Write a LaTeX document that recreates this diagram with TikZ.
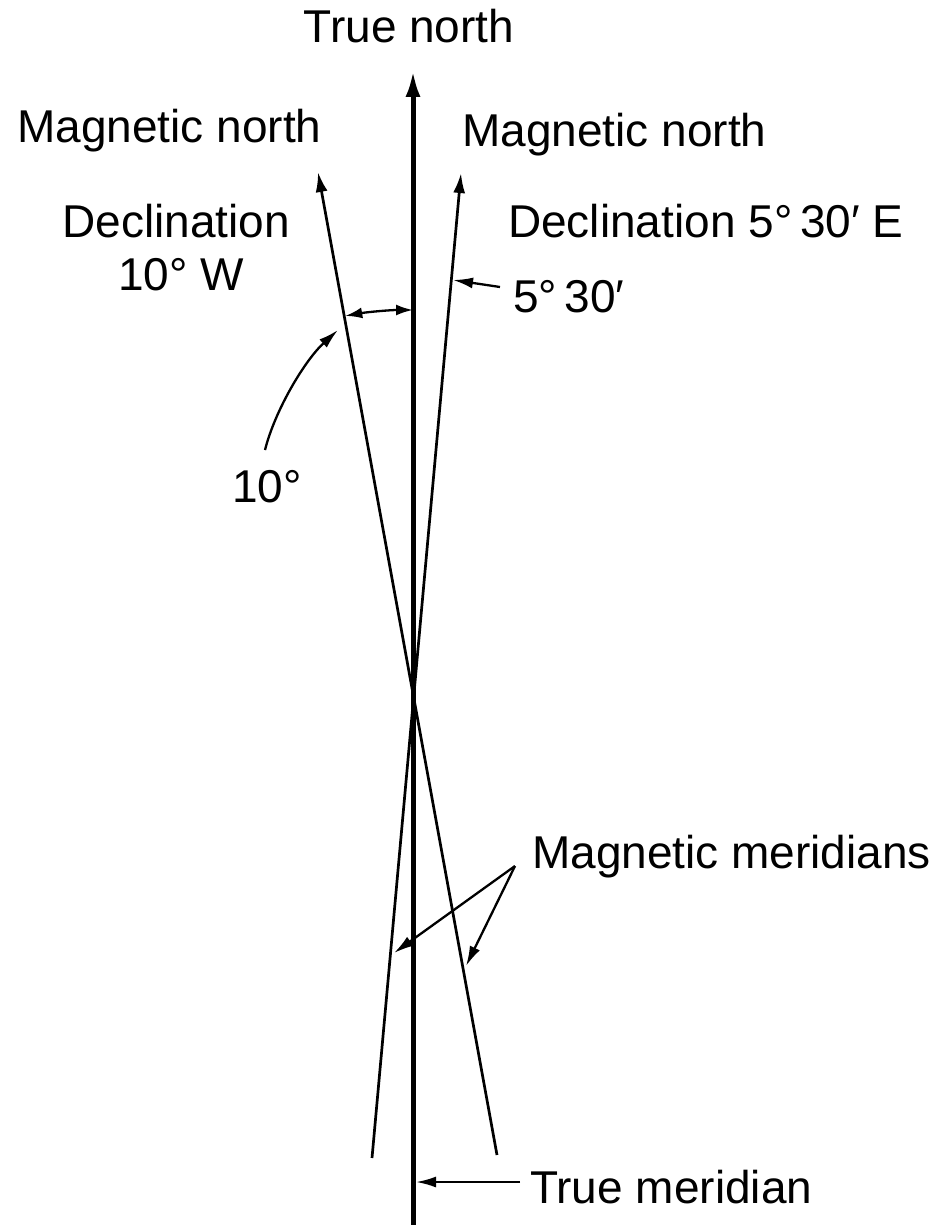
\documentclass[tikz,border=0pt]{standalone}
\usepackage{fontspec}
\setmainfont{Liberation Sans}
\usetikzlibrary{arrows.meta,calc}
\begin{document}
\begin{tikzpicture}[x=1pt,y=-1pt,
  lbl/.style={inner sep=0pt, font=\fontsize{46}{55}\selectfont, anchor=base west},
  truem/.style={line width=5pt},
  magm/.style={line width=2.7pt},
  lead/.style={line width=2.3pt},
  bigtip/.style={-{Latex[length=27pt,width=15pt]}},
  magtip/.style={-{Latex[length=20pt,width=12pt]}},
  leadtip/.style={-{Latex[length=20pt,width=11pt]}},
  dbltip/.style={{Latex[length=17pt,width=11pt]}-{Latex[length=17pt,width=11pt]}},
]
\path[use as bounding box] (0,0) rectangle (933,1225);

% key points
\coordinate (C) at (413,700);
\coordinate (Ttop) at (413,70);
\coordinate (Tbot) at (413,1225);
\coordinate (Wtop) at (318,172);
\coordinate (Wbot) at (497,1155);
\coordinate (Etop) at (461,173);
\coordinate (Ebot) at (372,1158);

% meridians
\draw[truem,bigtip] (Tbot) -- (Ttop);
\draw[magm,magtip] (Wbot) -- (Wtop);
\draw[magm,magtip] (Ebot) -- (Etop);

% labels
\node[lbl,anchor=base] (tn) at (409,43) {True north};
\node[lbl] (mnl) at (17,143) {Magnetic north};
\node[lbl] (mnr) at (462,147) {Magnetic north};
\node[lbl,anchor=base] (decl1) at (176,237) {Declination};
\node[lbl,anchor=base] (decl2) at (181,290) {10° W};
\node[lbl] (decr) at (508,237) {Declination 5°\,30′ E};
\node[lbl] (ang5) at (513,312) {5°\,30′};
\node[lbl] (ang10) at (232,502) {10°};
\node[lbl] (mm) at (532,868) {Magnetic meridians};
\node[lbl] (tm) at (530,1203) {True meridian};

% 10 degree arc
\coordinate (arcA) at ($(C)+(260:390)$);
\draw[lead,dbltip] (arcA) arc[start angle=260, end angle=270, radius=390];

% leader from 10 deg label
\coordinate (l10s) at (265,450);
\coordinate (l10e) at (338,330);
\draw[lead,leadtip] (l10s) .. controls (275,410) and (305,360) .. (l10e);

% leader from 5 30 label
\coordinate (l5s) at (500,287);
\coordinate (l5e) at (453,280);
\draw[lead,leadtip] (l5s) -- (l5e);

% magnetic meridians leaders
\coordinate (mms) at (515,866);
\coordinate (mmE) at (394,953);
\coordinate (mmW) at (466,966);
\draw[lead,leadtip] (mms) -- (mmE);
\draw[lead,leadtip] (mms) -- (mmW);

% true meridian leader
\coordinate (tms) at (520,1182);
\coordinate (tme) at (416,1182);
\draw[lead,leadtip] (tms) -- (tme);
\end{tikzpicture}
\end{document}
